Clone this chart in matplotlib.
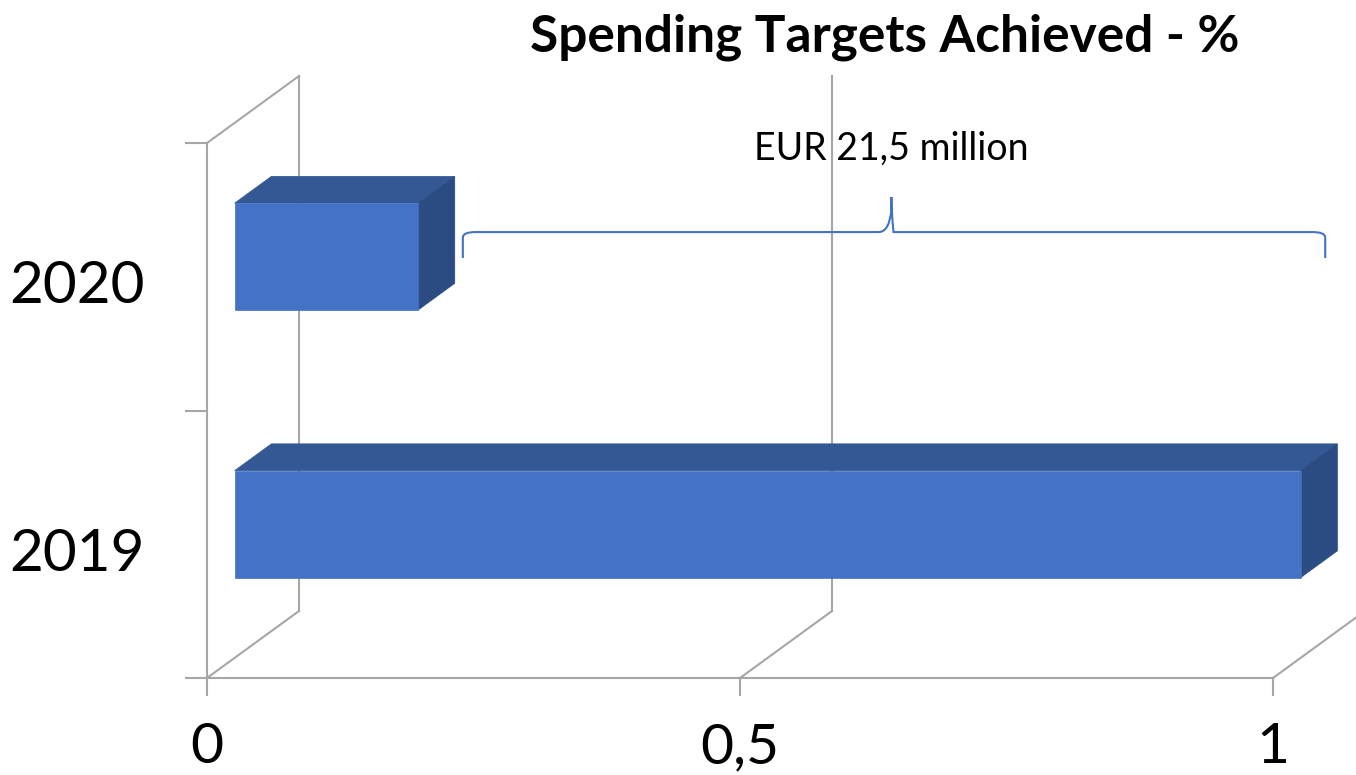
import matplotlib
matplotlib.use("Agg")
import matplotlib.pyplot as plt
from matplotlib.patches import Polygon
from matplotlib.path import Path
from matplotlib.patches import PathPatch

# ---- data ----
categories = ["2019", "2020"]
values = [1.0, 0.172]
x_ticks = [0, 0.5, 1]
x_tick_labels = ["0", "0,5", "1"]
title = "Spending Targets Achieved - %"
annotation = "EUR 21,5 million"

# ---- style ----
FRONT = "#4472C4"
TOP = "#335894"
SIDE = "#2B4B83"
GRID = "#A6A6A6"
FONT = "Lato"

W, H = 1356, 775
fig = plt.figure(figsize=(W / 100, H / 100), dpi=100)
# axes: x value 0..1 maps to px 207..1273, y category 0..2 maps to px 678..143
ax_left, ax_right, ax_bottom, ax_top = 207, 1273, 678, 143
ax = fig.add_axes([ax_left / W, (H - ax_bottom) / H,
                   (ax_right - ax_left) / W, (ax_bottom - ax_top) / H])
ax.set_xlim(0, 1)
ax.set_ylim(0, len(categories))
ax.axis("off")

# depth offset of the 3D box, in data units
px_x = 1.0 / (ax_right - ax_left)
px_y = len(categories) / (ax_bottom - ax_top)
DX = 92 * px_x
DY = 67 * px_y
LW = 1.5

# left wall
n = len(categories)
ax.plot([0, 0], [0, n], color=GRID, lw=LW, clip_on=False, zorder=1)
ax.plot([0, DX], [n, n + DY], color=GRID, lw=LW, clip_on=False, zorder=1)
# floor front edge
ax.plot([0, 1], [0, 0], color=GRID, lw=LW, clip_on=False, zorder=1)
# gridlines: floor diagonal + back wall vertical
for xv in x_ticks:
    ax.plot([xv, xv + DX], [0, DY], color=GRID, lw=LW, clip_on=False, zorder=1)
    ax.plot([xv + DX, xv + DX], [DY, n + DY], color=GRID, lw=LW,
            clip_on=False, zorder=1)
# ticks
for i in range(n + 1):
    ax.plot([-21 * px_x, 0], [i, i], color=GRID, lw=LW, clip_on=False, zorder=1)
for xv in x_ticks:
    ax.plot([xv, xv], [0, -17 * px_y], color=GRID, lw=LW, clip_on=False, zorder=1)

# bars
half = 0.2
d0, d1 = 0.30, 0.70
for i, (cat, v) in enumerate(zip(categories, values)):
    c = i + 0.5
    y0, y1 = c - half, c + half
    fx, fy = d0 * DX, d0 * DY
    bx, by = d1 * DX, d1 * DY
    front = [(fx, y0 + fy), (v + fx, y0 + fy), (v + fx, y1 + fy), (fx, y1 + fy)]
    top = [(fx, y1 + fy), (v + fx, y1 + fy), (v + bx, y1 + by), (bx, y1 + by)]
    side = [(v + fx, y0 + fy), (v + bx, y0 + by), (v + bx, y1 + by), (v + fx, y1 + fy)]
    for pts, col in ((top, TOP), (side, SIDE), (front, FRONT)):
        ax.add_patch(Polygon(pts, closed=True, facecolor=col, edgecolor=col,
                             lw=0.5, clip_on=False, zorder=3))
    ax.text(-62 * px_x, c - 26.5 * px_y, cat, ha="right", va="baseline",
            fontsize=42, family=FONT, color="black")

for xv, lab in zip(x_ticks, x_tick_labels):
    ax.text(xv, -85 * px_y, lab, ha="center", va="baseline", fontsize=41,
            family=FONT, color="black")

# brace annotation
bx0, bx1 = 0.24, 1.049
by_line, by_end, by_peak = 1.667, 1.570, 1.798
bmid = 0.642
r = 0.012
verts = [(bx0, by_end), (bx0, by_line - 0.02), (bx0, by_line), (bx0 + r, by_line),
         (bmid - r, by_line), (bmid - 0.002, by_line), (bmid, by_peak - 0.05), (bmid, by_peak),
         (bmid, by_peak - 0.05), (bmid + 0.002, by_line), (bmid + r, by_line),
         (bx1 - r, by_line), (bx1, by_line), (bx1, by_line - 0.02), (bx1, by_end)]
codes = [Path.MOVETO, Path.LINETO, Path.CURVE3, Path.CURVE3,
         Path.LINETO, Path.CURVE3, Path.CURVE3, Path.LINETO,
         Path.CURVE3, Path.CURVE3, Path.LINETO,
         Path.LINETO, Path.CURVE3, Path.CURVE3, Path.LINETO]
ax.add_patch(PathPatch(Path(verts, codes), facecolor="none", edgecolor=FRONT,
                       lw=1.5, clip_on=False, zorder=4))
ax.text(bmid, 1.98, annotation, ha="center", va="center", fontsize=27,
        family=FONT, color="black")

fig.text(885 / W, 1 - 37 / H, title, ha="center", va="center", fontsize=37,
         fontweight="bold", family=FONT, color="black")

fig.savefig("out.png", dpi=100, facecolor="white")
